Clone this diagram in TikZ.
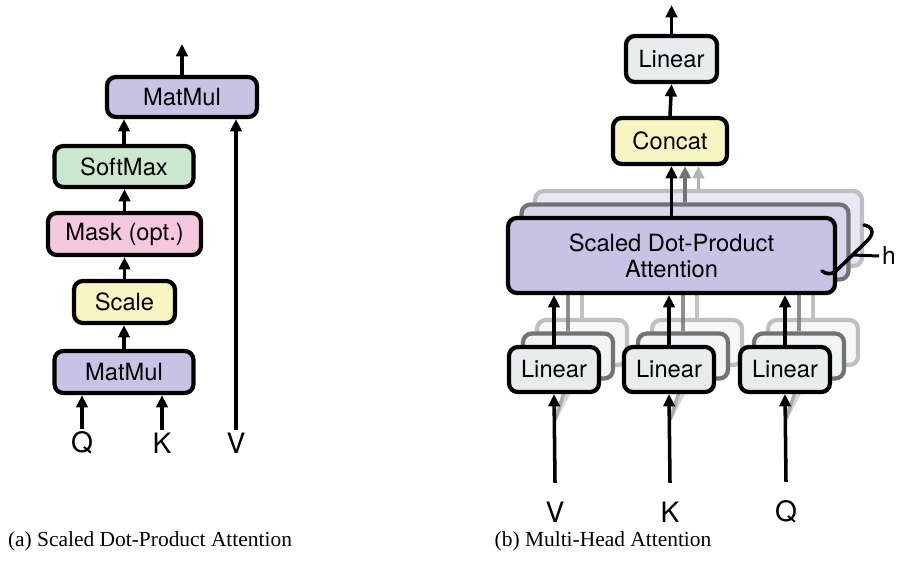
\documentclass[tikz,border=0pt]{standalone}
\usepackage{fontspec}
\setmainfont{Liberation Serif}
\newfontfamily\helv{TeX Gyre Heros}
\usetikzlibrary{arrows.meta, positioning, calc}

\definecolor{mmpurple}{RGB}{200,195,228}
\definecolor{smgreen}{RGB}{203,231,207}
\definecolor{mkpink}{RGB}{246,200,221}
\definecolor{scyellow}{RGB}{248,245,194}
\definecolor{lingrey}{RGB}{232,236,236}

\begin{document}
\begin{tikzpicture}[
    x=0.02cm, y=-0.02cm,
    box/.style={draw, line width=2.4pt, rounded corners=5pt, inner sep=0pt,
                font=\helv\fontsize{13.5}{15}\selectfont},
    layerB/.style={draw=black!55},
    layerC/.style={draw=black!25},
    arr/.style={-{Triangle[length=7pt, width=6.5pt]}, line width=2pt},
    lbl/.style={font=\helv\fontsize{16}{18}\selectfont, inner sep=1.5pt},
    ghost/.style={line width=2pt, draw=black!30, opacity=.8}
  ]
  \useasboundingbox (0,0) rectangle (898,566);

  % (a) scaled dot-product attention
  \node[box, fill=mmpurple, minimum width=3cm, minimum height=0.8cm]
    (mmTop) at (182,97) {MatMul};
  \node[box, fill=smgreen, minimum width=2.78cm, minimum height=0.82cm]
    (soft) at (124,166.5) {SoftMax};
  \node[box, fill=mkpink, minimum width=3.06cm, minimum height=0.84cm]
    (mask) at (124.5,234) {Mask (opt.)};
  \node[box, fill=scyellow, minimum width=2.02cm, minimum height=0.84cm]
    (scale) at (124.5,302) {Scale};
  \node[box, fill=mmpurple, minimum width=2.78cm, minimum height=0.84cm]
    (mmBot) at (124,372) {MatMul};

  \node[lbl] (qa) at (82,443) {Q};
  \node[lbl] (ka) at (162,443) {K};
  \node[lbl] (va) at (236,443) {V};
  \coordinate (outA) at (182,44);

  \draw[arr] (qa.north) -- (qa.north |- mmBot.south);
  \draw[arr] (ka.north) -- (ka.north |- mmBot.south);
  \draw[arr] (va.north) -- (va.north |- mmTop.south);
  \draw[arr] (mmBot.north) -- (mmBot.north |- scale.south);
  \draw[arr] (scale.north) -- (scale.north |- mask.south);
  \draw[arr] (mask.north) -- (mask.north |- soft.south);
  \draw[arr] (soft.north) -- (soft.north |- mmTop.south);
  \draw[arr] (mmTop.north) -- (outA);

  % (b) multi-head attention
  \node[box, layerC, fill=mmpurple!40, minimum width=6.54cm, minimum height=1.5cm]
    (sdpaC) at (698.5,228.5) {};
  \node[box, layerB, fill=mmpurple!70, minimum width=6.54cm, minimum height=1.5cm]
    (sdpaB) at (685,242) {};

  \foreach \n/\x in {V/554, K/669, Q/785} {
    \node[lbl] (in\n) at (\x+1,512) {\n};
    \coordinate[above=0.32cm of in\n] (src\n);
    \coordinate (tap\n) at ($(src\n)+(0,-63)$);
    \node[box, layerC, fill=lingrey!40, minimum width=1.8cm, minimum height=0.9cm]
      (linC\n) at (\x+28,342.5) {};
    \node[box, layerB, fill=lingrey!60, minimum width=1.8cm, minimum height=0.9cm]
      (linB\n) at (\x+14,356) {};
    \draw[ghost] (linC\n.north) -- (linC\n.north |- sdpaB.south);
    \draw[ghost, draw=black!55] (linB\n.north) -- (linB\n.north |- sdpaB.south);
    \draw[ghost, draw=black!20] (tap\n) -- (linC\n.south);
    \draw[ghost, draw=black!40] (tap\n) -- (linB\n.south);
    \node[box, fill=lingrey, minimum width=1.8cm, minimum height=0.9cm]
      (lin\n) at (\x,369.5) {Linear};
    \draw[arr] (src\n) -- (lin\n.south);
  }

  \node[box, fill=mmpurple, minimum width=6.54cm, minimum height=1.5cm,
        align=center, font=\helv\fontsize{13.5}{14.7}\selectfont]
    (sdpa) at (671.5,255.5) {Scaled Dot-Product\\Attention};
  \node[box, fill=scyellow, minimum width=2.28cm, minimum height=0.92cm]
    (concat) at (670,141) {Concat};
  \node[box, fill=lingrey, minimum width=1.82cm, minimum height=0.92cm]
    (linOut) at (671.5,59) {Linear};
  \coordinate (outB) at (671.5,5);

  \foreach \n in {V, K, Q}
    \draw[arr] (lin\n.north) -- (lin\n.north |- sdpa.south);
  \draw[arr, draw=black!30] (sdpaC.north) -- (sdpaC.north |- concat.south);
  \draw[arr, draw=black!55] (sdpaB.north) -- (sdpaB.north |- concat.south);
  \draw[arr] (sdpa.north) -- (sdpa.north |- concat.south);
  \draw[arr] (concat.north) -- (linOut.south);
  \draw[arr] (linOut.north) -- (outB);

  % heads bracket
  \node[lbl, font=\helv\fontsize{14}{16}\selectfont] (h) at (889,256) {h};
  \draw[line width=2pt, line cap=round]
    (864,225) .. controls (874,227) and (874,234) .. (867,241)
    -- (836,271) .. controls (831,275) and (826,274) .. (822,271);
  \draw[line width=1.7pt] (852,255) -- (h.west);

  % captions
  \node[font=\fontsize{12.2}{14}\selectfont] (capA) at (150,541)
    {(a) Scaled Dot-Product Attention};
  \node[font=\fontsize{12.2}{14}\selectfont] (capB) at (603,541)
    {(b) Multi-Head Attention};
\end{tikzpicture}
\end{document}
